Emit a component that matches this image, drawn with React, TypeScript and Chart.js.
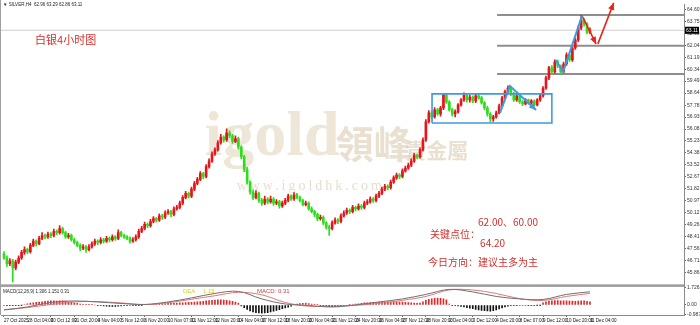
import React, { useEffect, useRef } from "react";
import { Chart, registerables } from "chart.js";

Chart.register(...registerables);

// ---------------- data (H4 candles, bar index 0 = 27 Oct 2025) ----------------
const barOpen = [
  47.20,46.90,46.50,46.70,46.20,46.60,46.90,47.30,47.50,47.35,
  47.80,48.10,47.90,48.30,48.50,48.40,48.60,48.50,48.80,48.70,
  49.00,48.70,48.40,48.50,48.20,48.00,47.80,47.60,47.70,47.50,
  47.70,47.90,48.10,48.00,48.20,48.10,48.30,48.20,48.40,48.30,
  48.70,48.50,48.40,48.30,48.10,48.20,48.40,48.80,49.00,49.30,
  49.20,49.50,49.70,49.60,49.90,49.80,50.10,50.20,50.00,50.40,
  50.50,50.80,51.20,51.50,51.30,51.80,52.20,52.50,52.90,52.70,
  53.40,53.80,54.30,54.60,55.10,55.50,55.30,55.80,55.60,55.20,
  55.40,54.80,54.10,53.20,52.30,51.60,51.20,51.50,51.00,50.80,
  51.10,50.90,51.10,50.80,50.90,50.60,50.80,51.00,51.30,51.10,
  51.40,51.20,51.00,50.70,50.80,50.40,50.20,50.00,49.70,49.80,
  49.40,49.10,49.00,49.40,49.60,49.50,49.90,50.10,50.30,50.20,
  50.50,50.40,50.60,50.50,50.80,50.90,51.10,51.00,51.30,51.50,
  51.80,52.00,51.90,52.30,52.60,52.80,52.70,53.10,53.30,53.50,
  53.80,54.20,54.10,54.60,55.30,56.60,57.23,56.94,57.44,57.15,
  57.58,58.51,58.00,57.44,57.15,57.30,57.80,58.15,58.50,58.15,
  58.36,58.08,58.44,58.30,57.94,57.58,57.15,56.80,56.94,57.23,
  57.72,58.29,58.72,59.00,58.58,58.15,58.44,58.01,57.87,58.15,
  57.94,58.08,57.80,58.15,58.44,59.00,59.72,60.43,60.14,60.86,
  60.57,60.14,60.71,61.35,61.00,61.85,62.42,63.28,63.85,63.56,
  62.96
];
const barHigh = [
  47.35,47.05,46.85,46.80,46.75,47.05,47.45,47.70,47.60,47.95,
  48.25,48.20,48.45,48.70,48.60,48.75,48.70,48.95,48.90,49.20,
  49.10,48.80,48.65,48.60,48.30,48.10,47.90,47.85,47.80,47.85,
  48.05,48.25,48.20,48.35,48.30,48.45,48.40,48.55,48.50,48.90,
  48.80,48.60,48.50,48.40,48.35,48.55,48.95,49.15,49.45,49.40,
  49.65,49.85,49.80,50.05,50.00,50.25,50.35,50.30,50.55,50.65,
  50.95,51.35,51.65,51.60,51.95,52.35,52.65,53.05,53.00,53.55,
  53.95,54.45,54.75,55.25,55.70,55.60,56.10,55.95,55.70,55.60,
  55.50,54.90,54.20,53.35,52.40,51.75,51.70,51.60,51.15,51.30,
  51.20,51.30,51.20,51.05,51.00,50.95,51.15,51.45,51.40,51.55,
  51.50,51.30,51.10,50.95,50.90,50.55,50.30,50.10,49.95,49.90,
  49.50,49.25,49.55,49.75,49.70,50.05,50.25,50.45,50.40,50.65,
  50.60,50.75,50.70,50.95,51.05,51.25,51.20,51.45,51.65,51.95,
  52.15,52.10,52.45,52.75,52.95,52.90,53.25,53.45,53.65,53.95,
  54.35,54.30,54.75,55.45,56.75,57.40,57.35,57.60,57.55,57.70,
  58.58,58.60,58.10,57.55,57.45,57.90,58.25,58.65,58.60,58.50,
  58.45,58.58,58.55,58.40,58.05,57.70,57.25,57.05,57.35,57.85,
  58.40,58.85,59.15,59.08,58.70,58.55,58.52,58.10,58.25,58.22,
  58.18,58.15,58.25,58.55,59.10,59.85,60.55,60.60,61.00,60.98,
  60.65,60.85,61.50,61.45,61.95,62.55,63.40,64.20,63.95,63.65,
  63.29
];
const barLow = [
  46.80,46.30,46.35,45.20,46.05,46.50,46.80,47.15,47.20,47.25,
  47.70,47.75,47.85,48.20,48.25,48.30,48.35,48.40,48.55,48.60,
  48.60,48.30,48.30,48.10,47.90,47.70,47.40,47.50,47.30,47.40,
  47.60,47.80,47.85,47.90,47.95,48.00,48.05,48.10,48.15,48.20,
  48.40,48.30,48.20,47.95,48.00,48.10,48.30,48.70,48.90,49.05,
  49.10,49.40,49.45,49.50,49.65,49.70,50.00,49.85,49.90,50.30,
  50.40,50.70,51.10,51.15,51.20,51.70,52.10,52.40,52.55,52.60,
  53.30,53.70,54.20,54.50,55.00,55.15,55.20,55.45,55.05,55.10,
  54.65,53.95,53.05,52.15,51.45,51.05,51.10,50.85,50.65,50.70,
  50.75,50.80,50.65,50.70,50.45,50.50,50.70,50.90,51.00,51.00,
  51.10,50.90,50.60,50.60,50.30,50.10,49.85,49.55,49.60,49.25,
  48.95,48.50,48.90,49.30,49.35,49.40,49.80,50.00,50.05,50.10,
  50.25,50.30,50.35,50.40,50.70,50.80,50.85,50.90,51.20,51.40,
  51.70,51.75,51.80,52.20,52.50,52.55,52.60,53.00,53.20,53.40,
  53.70,53.95,54.00,54.50,55.20,56.50,56.80,56.85,57.05,57.00,
  57.45,57.90,57.35,57.00,56.95,57.20,57.70,58.05,58.00,58.00,
  57.95,57.95,58.20,57.85,57.45,57.00,56.58,56.62,56.85,57.15,
  57.65,58.20,58.60,58.45,58.05,58.05,57.90,57.75,57.80,57.85,
  57.85,57.70,57.72,58.05,58.35,58.90,59.60,60.00,60.05,60.45,
  60.00,60.05,60.60,60.90,60.90,61.75,62.30,63.15,63.40,62.85,
  62.86
];
const barClose = [
  46.90,46.50,46.70,46.20,46.60,46.90,47.30,47.50,47.35,47.80,
  48.10,47.90,48.30,48.50,48.40,48.60,48.50,48.80,48.70,49.00,
  48.70,48.40,48.50,48.20,48.00,47.80,47.60,47.70,47.50,47.70,
  47.90,48.10,48.00,48.20,48.10,48.30,48.20,48.40,48.30,48.70,
  48.50,48.40,48.30,48.10,48.20,48.40,48.80,49.00,49.30,49.20,
  49.50,49.70,49.60,49.90,49.80,50.10,50.20,50.00,50.40,50.50,
  50.80,51.20,51.50,51.30,51.80,52.20,52.50,52.90,52.70,53.40,
  53.80,54.30,54.60,55.10,55.50,55.30,55.80,55.60,55.20,55.40,
  54.80,54.10,53.20,52.30,51.60,51.20,51.50,51.00,50.80,51.10,
  50.90,51.10,50.80,50.90,50.60,50.80,51.00,51.30,51.10,51.40,
  51.20,51.00,50.70,50.80,50.40,50.20,50.00,49.70,49.80,49.40,
  49.10,49.00,49.40,49.60,49.50,49.90,50.10,50.30,50.20,50.50,
  50.40,50.60,50.50,50.80,50.90,51.10,51.00,51.30,51.50,51.80,
  52.00,51.90,52.30,52.60,52.80,52.70,53.10,53.30,53.50,53.80,
  54.20,54.10,54.60,55.30,56.60,57.23,56.94,57.44,57.15,57.58,
  58.51,58.00,57.44,57.15,57.30,57.80,58.15,58.50,58.15,58.36,
  58.08,58.44,58.30,57.94,57.58,57.15,56.80,56.94,57.23,57.72,
  58.29,58.72,59.00,58.58,58.15,58.44,58.01,57.87,58.15,57.94,
  58.08,57.80,58.15,58.44,59.00,59.72,60.43,60.14,60.86,60.57,
  60.14,60.71,61.35,61.00,61.85,62.42,63.28,63.85,63.56,62.96,
  63.11
];

// MACD histogram, one value per bar
const macdHist = [
  -0.05,-0.06,-0.08,-0.08,-0.06,-0.04,-0.02,
  0.05,0.12,0.18,0.22,0.26,0.28,
  0.32,0.35,0.38,0.40,0.40,0.38,0.40,0.42,0.38,
  0.32,0.28,0.22,0.16,
  0.10,0.06,0.04,0.02,0.02,0.00,
  -0.04,-0.08,-0.10,-0.12,-0.14,-0.15,-0.14,-0.12,-0.10,
  -0.08,-0.06,-0.05,-0.04,-0.04,-0.03,-0.02,0.02,0.04,0.05,0.06,0.08,
  0.10,0.12,0.14,0.15,0.16,0.18,0.18,0.20,0.22,0.24,0.25,0.26,0.28,
  0.30,0.34,0.36,0.40,0.44,0.46,0.48,0.50,0.50,0.48,0.46,0.42,0.36,
  0.28,0.18,
  -0.10,-0.28,-0.45,-0.60,
  -0.70,-0.76,-0.80,-0.82,-0.80,-0.76,-0.70,-0.62,-0.54,-0.46,-0.38,-0.30,
  -0.22,-0.12,
  0.05,0.10,0.14,0.16,0.18,0.14,0.10,0.06,
  0.02,-0.04,-0.08,
  -0.12,-0.16,-0.18,-0.16,-0.14,-0.12,-0.08,-0.04,
  0.02,0.05,0.08,
  0.12,0.16,0.20,0.22,0.24,0.26,0.26,0.28,0.28,
  0.30,0.30,0.32,0.30,0.30,0.28,0.28,0.26,0.24,0.22,0.18,0.16,0.18,
  0.30,0.45,0.55,0.62,0.66,0.68,0.66,0.60,0.50,
  0.10,-0.04,-0.06,
  -0.10,-0.14,-0.20,-0.26,-0.32,-0.38,-0.44,-0.50,-0.54,-0.58,-0.60,-0.62,-0.58,-0.50,
  -0.40,-0.30,-0.20,-0.12,
  -0.08,-0.06,-0.06,-0.05,-0.05,-0.05,-0.04,-0.04,-0.03,-0.02,-0.01,
  0.20,0.30,0.38,0.42,0.44,0.44,0.42,0.40,0.40,0.38,0.38,0.36,0.38,0.40,0.42,0.36,0.31
];
// MACD lines read every 8 bars
const macdLineBars = [0,8,16,24,32,40,48,56,64,72,80,88,96,104,112,120,128,136,144,152,160,168,176,184,192,200];
const macdDif = [-0.50,-0.20,0.25,0.40,0.30,0.15,0.05,0.30,0.70,1.15,1.35,0.60,0.10,-0.05,-0.20,0.00,0.30,0.60,1.05,1.55,1.30,0.85,0.60,0.55,1.05,1.31];
const macdDea = [-0.47,-0.26,0.05,0.31,0.33,0.20,0.04,0.22,0.57,0.92,1.26,1.01,0.25,-0.13,-0.11,-0.04,0.16,0.46,0.85,1.50,1.49,1.14,0.63,0.45,0.85,1.15];

const xTickLabels = [
  "27 Oct 2025","28 Oct 04:00","30 Oct 12:00","31 Oct 20:00","4 Nov 04:00","5 Nov 12:00",
  "6 Nov 20:00","10 Nov 07:00","11 Nov 12:00","12 Nov 20:00","14 Nov 04:00","17 Nov 12:00",
  "18 Nov 20:00","20 Nov 04:00","21 Nov 12:00","24 Nov 20:00","26 Nov 04:00","27 Nov 12:00",
  "28 Nov 20:00","2 Dec 04:00","3 Dec 12:00","4 Dec 20:00","8 Dec 07:00","9 Dec 12:00",
  "10 Dec 20:00","11 Dec 04:00"
];
const xTickStep = 8;
const yTickValues = [64.60,63.75,62.90,62.04,61.19,60.34,59.49,58.64,57.78,56.93,56.08,55.23,54.38,53.52,52.67,51.82,50.97,50.12,49.26,48.41,47.56,46.71,45.86];
const macdTickValues = [1.726, 0, -0.987];
const macdTickLabels = ["1.726", "0.00", "-0.987"];

const keyLevels = [64.20, 62.00, 60.00];
const keyLevelStartBar = 168.3;
const currentPrice = 63.11;
const boxBars = [146.1, 187.0];
const boxPrices = [56.51, 58.58];
const blueArrowA = [[169.3, 57.23], [172.7, 59.15], [181.6, 57.44]];
const blueArrowB = [[188.4, 61.0], [190.8, 60.14], [197.3, 64.13]];
const redArrowA = [[197.3, 64.13], [202.1, 62.14]];
const redArrowB = [[202.7, 62.14], [208.1, 65.06]];

const headerText = "SILVER,H4  62.96 63.29 62.86 63.11";
const macdHeader = "MACD(12,26,9) 1.306 1.151 0.31";
const notes = [
  { text: "白银4小时图", bar: 10.6, price: 62.42, size: 11 },
  { text: "62.00、60.00", bar: 161.8, price: 49.46, size: 10 },
  { text: "关键点位：", bar: 145.4, price: 48.61, size: 10 },
  { text: "64.20", bar: 162.5, price: 47.97, size: 10 },
  { text: "今日方向：建议主多为主", bar: 144.7, price: 46.62, size: 10 },
];

// ---------------- styles ----------------
const X_MIN = -1.02, X_MAX = 232.1;
const Y_MIN = 44.95, Y_MAX = 64.98;
const M_MIN = -1.0, M_MAX = 1.95;
const UP = "#e5161b";
const DOWN = "#2ede1c";
const NOTE_RED = "#d3302c";
const BLUE = "#3d9be0";

function arrowHead(ctx: CanvasRenderingContext2D, a: any, b: any, color: string) {
  const ang = Math.atan2(b.y - a.y, b.x - a.x);
  const len = 7, half = 3.2;
  ctx.save();
  ctx.fillStyle = color;
  ctx.beginPath();
  ctx.moveTo(b.x, b.y);
  ctx.lineTo(b.x - len * Math.cos(ang) + half * Math.sin(ang), b.y - len * Math.sin(ang) - half * Math.cos(ang));
  ctx.lineTo(b.x - len * Math.cos(ang) - half * Math.sin(ang), b.y - len * Math.sin(ang) + half * Math.cos(ang));
  ctx.closePath();
  ctx.fill();
  ctx.restore();
}

const decorPlugin = {
  id: "decor",
  beforeDatasetsDraw(chart: any) {
    const { ctx, chartArea } = chart;
    const y = chart.scales.y;
    const L = chartArea.left, W = chartArea.width;
    ctx.save();
    ctx.beginPath();
    ctx.rect(L, y.top, W, y.bottom - y.top);
    ctx.clip();
    ctx.textBaseline = "alphabetic";
    ctx.textAlign = "left";
    ctx.fillStyle = "rgba(222,207,178,0.5)";
    ctx.font = "bold 64px 'Liberation Serif', 'DejaVu Serif', serif";
    ctx.fillText("igold", L + W * 0.298, 155);
    ctx.fillStyle = "rgba(212,193,160,0.5)";
    ctx.font = "bold 38px 'Noto Sans CJK TC', sans-serif";
    ctx.fillText("領峰", L + W * 0.49, 158);
    ctx.font = "bold 21px 'Noto Sans CJK TC', sans-serif";
    ctx.fillText("貴金屬", L + W * 0.592, 158);
    ctx.fillStyle = "rgba(215,200,168,0.6)";
    ctx.font = "14px 'Liberation Serif', serif";
    (ctx as any).letterSpacing = "3px";
    ctx.fillText("www.igoldhk.com", L + W * 0.345, 190);
    (ctx as any).letterSpacing = "0px";
    ctx.restore();
  },
  afterDatasetsDraw(chart: any) {
    const { ctx } = chart;
    chart.data.datasets.forEach((ds: any, i: number) => {
      if (!ds.arrowHead) return;
      const pts = chart.getDatasetMeta(i).data;
      if (pts.length < 2) return;
      arrowHead(ctx, pts[pts.length - 2], pts[pts.length - 1], ds.borderColor);
    });
  },
  afterDraw(chart: any) {
    const { ctx, chartArea } = chart;
    const x = chart.scales.x, y = chart.scales.y, y2 = chart.scales.y2;
    ctx.save();
    (ctx as any).letterSpacing = "0px";
    ctx.fillStyle = "#9b9b9b";
    ctx.fillRect(0, y.bottom - 1, chartArea.right, 2.5);
    ctx.fillStyle = "#a0a0a0";
    ctx.fillRect(0, 0, 1, chartArea.bottom);
    ctx.textAlign = "left";
    ctx.textBaseline = "middle";
    ctx.fillStyle = NOTE_RED;
    notes.forEach((n) => {
      ctx.font = `${n.size}px 'Noto Sans CJK SC', sans-serif`;
      ctx.fillText(n.text, x.getPixelForValue(n.bar), y.getPixelForValue(n.price));
    });
    ctx.fillStyle = "#222";
    ctx.font = "4.5px 'Liberation Sans', Arial, sans-serif";
    ctx.fillText("▼ " + headerText, 3, 5);
    const mt = y2.top + 6;
    ctx.fillText(macdHeader, 3, mt);
    ctx.font = "6px 'Liberation Sans', Arial, sans-serif";
    ctx.fillStyle = "#d8d800";
    ctx.fillText("DEA", 183, mt);
    ctx.fillText(macdDea[macdDea.length - 1].toFixed(2), 203, mt);
    ctx.fillStyle = "#d83a3a";
    ctx.fillText("MACD:", 257, mt);
    ctx.fillText(macdHist[macdHist.length - 1].toFixed(2), 278, mt);
    const py = y.getPixelForValue(currentPrice);
    ctx.fillStyle = "#000";
    ctx.fillRect(chartArea.right + 1, py - 3.5, 14, 7);
    ctx.fillStyle = "#fff";
    ctx.font = "5px 'Liberation Sans', Arial, sans-serif";
    ctx.fillText(currentPrice.toFixed(2), chartArea.right + 2, py + 0.3);
    ctx.restore();
  },
};

export default function App() {
  const ref = useRef<HTMLCanvasElement>(null);
  useEffect(() => {
    document.body.style.margin = "0";
    const canvas = ref.current;
    if (!canvas) return;
    const idx = barClose.map((_, i) => i);
    const colors = idx.map((i) => (barClose[i] >= barOpen[i] ? UP : DOWN));
    const line = (pts: number[][], color: string, width: number, extra: any = {}) => ({
      type: "line",
      data: pts.map((p) => ({ x: p[0], y: p[1] })),
      borderColor: color,
      borderWidth: width,
      pointRadius: 0,
      tension: 0,
      yAxisID: "y",
      ...extra,
    });
    const datasets: any[] = [
      {
        type: "bar",
        data: idx.map((i) => ({ x: i, y: [barOpen[i], barClose[i]] })),
        backgroundColor: colors,
        barThickness: 2,
        minBarLength: 1,
        grouped: false,
        yAxisID: "y",
        order: 2,
      },
      {
        type: "bar",
        data: idx.map((i) => ({ x: i, y: [barLow[i], barHigh[i]] })),
        backgroundColor: colors,
        barThickness: 1,
        grouped: false,
        yAxisID: "y",
        order: 3,
      },
      line([[X_MIN, currentPrice], [X_MAX, currentPrice]], "#cfcfcf", 1, { order: 7 }),
      ...keyLevels.map((v) => line([[keyLevelStartBar, v], [X_MAX, v]], "#8e8e8e", 2, { order: 6 })),
      line(
        [
          [boxBars[0], boxPrices[0]], [boxBars[1], boxPrices[0]], [boxBars[1], boxPrices[1]],
          [boxBars[0], boxPrices[1]], [boxBars[0], boxPrices[0]],
        ],
        BLUE, 1.6, { order: 1 }
      ),
      line(blueArrowA, BLUE, 2, { order: 0, arrowHead: true }),
      line(blueArrowB, BLUE, 2, { order: 0 }),
      line(redArrowA, "#e8241e", 1.6, { order: 0, arrowHead: true }),
      line(redArrowB, "#e8241e", 1.6, { order: 0, arrowHead: true, clip: false }),
      {
        type: "bar",
        data: idx.map((i) => ({ x: i, y: macdHist[i] })),
        backgroundColor: idx.map((i) => (macdHist[i] >= 0 ? "#e0292b" : "#111")),
        barThickness: 1,
        grouped: false,
        yAxisID: "y2",
        order: 4,
      },
      {
        type: "line",
        data: macdLineBars.map((b, k) => ({ x: b, y: macdDif[k] })),
        borderColor: "#6f6f6f",
        borderWidth: 1,
        pointRadius: 0,
        tension: 0.35,
        yAxisID: "y2",
        order: 3,
      },
      {
        type: "line",
        data: macdLineBars.map((b, k) => ({ x: b, y: macdDea[k] })),
        borderColor: "#e07878",
        borderWidth: 1,
        pointRadius: 0,
        tension: 0.35,
        yAxisID: "y2",
        order: 3,
      },
    ];

    const chart = new Chart(canvas, {
      type: "bar",
      data: { datasets },
      options: {
        responsive: false,
        maintainAspectRatio: false,
        animation: false,
        events: [],
        layout: { padding: { left: 1, top: 0, right: 0, bottom: 0 } },
        plugins: { legend: { display: false }, tooltip: { enabled: false } },
        scales: {
          x: {
            type: "linear",
            position: "bottom",
            min: X_MIN,
            max: X_MAX,
            offset: false,
            grid: { drawOnChartArea: false, drawTicks: true, tickLength: 2, color: "#666", offset: false },
            border: { display: true, color: "#8a8a8a" },
            afterBuildTicks: (s: any) => {
              s.ticks = xTickLabels.map((_, k) => ({ value: k * xTickStep }));
            },
            afterFit: (s: any) => {
              s.height = 10;
            },
            ticks: {
              autoSkip: false,
              maxRotation: 0,
              minRotation: 0,
              align: "start",
              padding: 1,
              color: "#111",
              font: { size: 4.5, family: "'Liberation Sans', Arial, sans-serif" },
              callback: (v: any) => xTickLabels[Math.round(Number(v) / xTickStep)] ?? "",
            },
          },
          y: {
            type: "linear",
            position: "right",
            stack: "panes",
            stackWeight: 285,
            min: Y_MIN,
            max: Y_MAX,
            grid: { drawOnChartArea: false, drawTicks: true, tickLength: 2, color: "#666" },
            border: { display: true, color: "#8a8a8a" },
            afterBuildTicks: (s: any) => {
              s.ticks = yTickValues.map((v) => ({ value: v }));
            },
            afterFit: (s: any) => {
              s.width = 16;
            },
            ticks: {
              autoSkip: false,
              padding: 1,
              color: "#333",
              font: { size: 5, family: "'Liberation Sans', Arial, sans-serif" },
              callback: (v: any) => Number(v).toFixed(2),
            },
          },
          y2: {
            type: "linear",
            position: "right",
            stack: "panes",
            stackWeight: 30,
            min: M_MIN,
            max: M_MAX,
            grid: { drawOnChartArea: false, drawTicks: true, tickLength: 2, color: "#666" },
            border: { display: true, color: "#8a8a8a" },
            afterBuildTicks: (s: any) => {
              s.ticks = macdTickValues.map((v) => ({ value: v }));
            },
            afterFit: (s: any) => {
              s.width = 16;
            },
            ticks: {
              autoSkip: false,
              padding: 1,
              color: "#333",
              font: { size: 5, family: "'Liberation Sans', Arial, sans-serif" },
              callback: (v: any, i: number) => macdTickLabels[i] ?? "",
            },
          },
        },
      } as any,
      plugins: [decorPlugin],
    } as any);
    return () => chart.destroy();
  }, []);
  return (
    <div style={{ width: 700, height: 325 }}>
      <canvas ref={ref} width={700} height={325} style={{ display: "block" }} />
    </div>
  );
}
